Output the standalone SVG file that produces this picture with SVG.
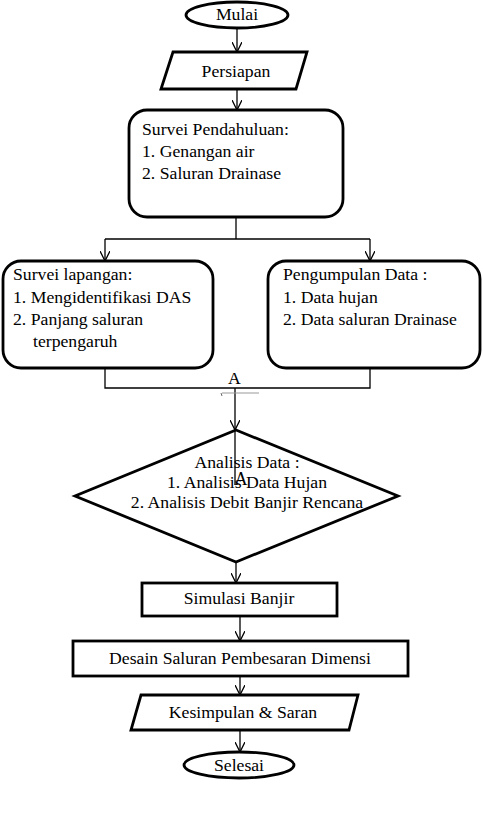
<svg xmlns="http://www.w3.org/2000/svg" width="483" height="817" viewBox="0 0 483 817">
<defs>
<marker id="arr" viewBox="0 0 10 10" refX="10" refY="5" markerWidth="10" markerHeight="10" markerUnits="userSpaceOnUse" orient="auto">
<path d="M0,0 L10,5 L0,10" fill="none" stroke="#000" stroke-width="1.3"/>
</marker>
<style>
.shape{fill:#fff;stroke:#000;stroke-width:2.8}
.conn{fill:none;stroke:#000;stroke-width:1.3}
text{font-family:"Liberation Serif","Times New Roman",serif;font-size:17.7px;fill:#000}
.c{text-anchor:middle}
</style>
</defs>
<rect width="483" height="817" fill="#fff"/>
<g id="connectors">
<path class="conn" d="M237,28 L237,52" marker-end="url(#arr)"/>
<path class="conn" d="M237,89 L237,110" marker-end="url(#arr)"/>
<path class="conn" d="M236,217 L236,239"/>
<path class="conn" d="M105,239 L370,239"/>
<path class="conn" d="M105,239 L105,261" marker-end="url(#arr)"/>
<path class="conn" d="M370,239 L370,261" marker-end="url(#arr)"/>
<path class="conn" d="M105,368 L105,388 L370,388 L370,368"/>
<path class="conn" d="M235,388 L235,430" marker-end="url(#arr)"/>
<path class="conn" d="M235,430 L235,485"/>
<path d="M222,393 L259,393" stroke="#999" stroke-width="1" fill="none"/>
<path d="M221,393 L222,396" stroke="#666" stroke-width="1" fill="none"/>
<path class="conn" d="M236,562 L236,583" marker-end="url(#arr)"/>
<path class="conn" d="M240,616 L240,641" marker-end="url(#arr)"/>
<path class="conn" d="M240,676 L240,695" marker-end="url(#arr)"/>
<path class="conn" d="M240,730 L240,752" marker-end="url(#arr)"/>
<text x="234.5" y="384" class="c">A</text>
</g>
<g id="mulai">
<ellipse class="shape" cx="237" cy="15" rx="51" ry="13"/>
<text x="237" y="20" class="c">Mulai</text>
</g>
<g id="persiapan">
<polygon class="shape" points="173,52 307,52 296,89 161,89"/>
<text x="236" y="77" class="c">Persiapan</text>
</g>
<g id="survei-pendahuluan">
<rect class="shape" x="129" y="110" width="214" height="107" rx="18"/>
<text x="142" y="135">Survei Pendahuluan:</text>
<text x="142" y="157">1. Genangan air</text>
<text x="142" y="179">2. Saluran Drainase</text>
</g>
<g id="survei-lapangan">
<rect class="shape" x="3" y="261" width="210" height="107" rx="18"/>
<text x="13" y="280">Survei lapangan:</text>
<text x="13" y="303">1. Mengidentifikasi DAS</text>
<text x="13" y="325">2. Panjang saluran</text>
<text x="33" y="347">terpengaruh</text>
</g>
<g id="pengumpulan-data">
<rect class="shape" x="268" y="261" width="212" height="107" rx="18"/>
<text x="283" y="280">Pengumpulan Data :</text>
<text x="283" y="303">1. Data hujan</text>
<text x="283" y="325">2. Data saluran Drainase</text>
</g>
<g id="analisis-data">
<polygon class="shape" points="236,430 398,496 236,562 75,496" style="fill:none"/>
<text x="247" y="468" class="c">Analisis Data :</text>
<text x="247" y="488" class="c">1. Analisis Data Hujan</text>
<text x="247" y="508" class="c">2. Analisis Debit Banjir Rencana</text>
<text x="241" y="485" class="c" style="font-size:18px">A</text>
</g>
<g id="simulasi-banjir">
<rect class="shape" x="142" y="583" width="195" height="33"/>
<text x="239" y="604" class="c">Simulasi Banjir</text>
</g>
<g id="desain-saluran">
<rect class="shape" x="73" y="641" width="335" height="35"/>
<text x="240" y="664" class="c">Desain Saluran Pembesaran Dimensi</text>
</g>
<g id="kesimpulan">
<polygon class="shape" points="141,695 358,695 349,730 131,730"/>
<text x="243" y="718" class="c">Kesimpulan &amp; Saran</text>
</g>
<g id="selesai">
<ellipse class="shape" cx="239" cy="765" rx="55" ry="13"/>
<text x="239" y="771" class="c">Selesai</text>
</g>
</svg>
